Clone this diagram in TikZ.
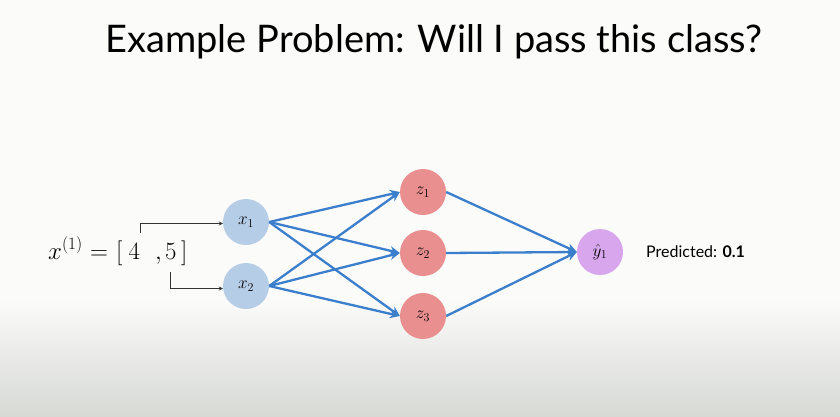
\documentclass[tikz,border=0pt]{standalone}
\usepackage{fontspec}
\newfontfamily\slidefont{Lato}
\usetikzlibrary{arrows.meta}

\definecolor{inblue}{HTML}{B5CDE6}
\definecolor{hidred}{HTML}{E98F8F}
\definecolor{outpurple}{HTML}{D8A6EC}
\definecolor{wireblue}{HTML}{3B7FCC}
\definecolor{bgtop}{HTML}{FBFBFA}
\definecolor{bgbottom}{HTML}{D7D9D5}

\tikzset{
  neuron/.style={circle, minimum size=46pt, inner sep=0pt,
    font=\fontsize{17}{19}\selectfont},
  inneuron/.style={neuron, fill=inblue},
  hidneuron/.style={neuron, fill=hidred},
  outneuron/.style={neuron, fill=outpurple},
  wire/.style={draw=wireblue, line width=2.3pt,
    -{Stealth[length=10pt, width=9pt]}},
  feed/.style={draw=black!80, line width=0.9pt,
    -{Stealth[length=4pt, width=4pt]}},
  vecpart/.style={anchor=base west, inner sep=0pt,
    font=\fontsize{25}{30}\selectfont},
}

\begin{document}
\begin{tikzpicture}[x=1pt, y=-1pt]
  \useasboundingbox (0,0) rectangle (840,416);
  % backdrop: plain slide fading to grey at the bottom
  \fill[bgtop] (0,0) rectangle (840,300);
  \shade[top color=bgtop, bottom color=bgbottom] (0,299.5) rectangle (840,416);

  % heading
  \node[anchor=base, inner sep=0pt, font=\slidefont\fontsize{38}{44}\selectfont]
    (title) at (434,52) {Example Problem: Will I pass this class?};

  % input vector, set piece by piece so each entry can be tapped
  \node[vecpart] (lhs) at (48,259) {$x^{(1)}$};
  \node[vecpart] (eq)  at (90,259) {$=$};
  \node[vecpart] (lb)  at (116,259) {$[$};
  \node[vecpart] (n4)  at (128.5,259) {$4$};
  \node[vecpart] (cm)  at (155,259) {$,$};
  \node[vecpart] (n5)  at (165,259) {$5$};
  \node[vecpart] (rb)  at (181,259) {$]$};

  % neurons
  \node[inneuron] (x1) at (246,222) {$x_1$};
  \node[inneuron] (x2) at (246,286) {$x_2$};
  \node[hidneuron] (z1) at (423,192) {$z_1$};
  \node[hidneuron] (z2) at (423,253) {$z_2$};
  \node[hidneuron] (z3) at (423,316) {$z_3$};
  \node[outneuron] (y1) at (600,252) {$\hat{y}_1$};

  % feeding the inputs
  \draw[feed] ([yshift=10pt]n4.north east) |- ([yshift=-1.5pt]x1.west);
  \draw[feed] ([yshift=-13pt]n5.south) |- ([yshift=-2.5pt]x2.west);

  % connections
  \foreach \i in {x1,x2}
    \foreach \h in {z1,z2,z3}
      \draw[wire] (\i.east) -- (\h.west);
  \foreach \h in {z1,z2,z3}
    \draw[wire] (\h.east) -- (y1.west);

  % prediction
  \node[anchor=base west, inner sep=0pt, font=\slidefont\fontsize{16}{18}\selectfont]
    (pred) at (646,257) {Predicted: \textbf{0.1}};
\end{tikzpicture}
\end{document}
